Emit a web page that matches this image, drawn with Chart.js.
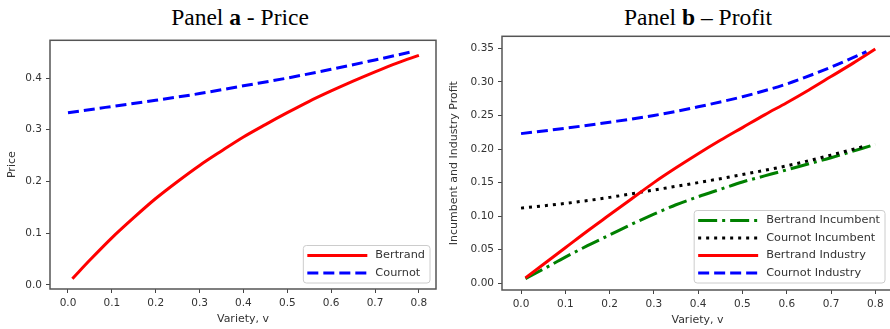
<!DOCTYPE html>
<html>
<head>
<meta charset="utf-8">
<script src="https://cdn.jsdelivr.net/npm/chart.js@4"></script>
<style>
  html, body { margin: 0; padding: 0; background: #fff; overflow: hidden; width: 890px; height: 329px; }
  .ttl { position: absolute; top: 4px; width: 300px; text-align: center; font-family: "Liberation Serif", serif; font-size: 23.5px; line-height: 26px; color: #000; }
  canvas { position: absolute; }
</style>
</head>
<body>
<div class="ttl" style="left:90px">Panel <b>a</b> - Price</div>
<div class="ttl" style="left:548px">Panel <b>b</b> – Profit</div>
<canvas id="price" width="445" height="299" style="left:0;top:30px"></canvas>
<canvas id="profit" width="450" height="303" style="left:445px;top:26px"></canvas>
<script>
// values
const xBertrand = [0.01, 0.05, 0.1, 0.15, 0.2, 0.25, 0.3, 0.35, 0.4, 0.45, 0.5, 0.55, 0.6, 0.65, 0.7, 0.75, 0.8];
const xCournot = [0, 0.1, 0.2, 0.3, 0.4, 0.5, 0.6, 0.7, 0.78];

const priceBertrand = [0.012, 0.048, 0.091, 0.130, 0.167, 0.200, 0.231, 0.259, 0.286, 0.310, 0.333, 0.355, 0.375, 0.394, 0.412, 0.429, 0.444];
const priceCournot = [0.333, 0.345, 0.357, 0.370, 0.385, 0.400, 0.417, 0.435, 0.450];

const bertrandIncumbent = [0.007, 0.021, 0.039, 0.056, 0.072, 0.088, 0.103, 0.117, 0.129, 0.140, 0.151, 0.160, 0.169, 0.178, 0.187, 0.197, 0.207];
const cournotIncumbent = [0.112, 0.119, 0.128, 0.139, 0.150, 0.162, 0.175, 0.191, 0.205];
const bertrandIndustry = [0.008, 0.028, 0.053, 0.078, 0.102, 0.126, 0.150, 0.172, 0.193, 0.213, 0.232, 0.251, 0.269, 0.288, 0.308, 0.328, 0.349];
const cournotIndustry = [0.223, 0.231, 0.240, 0.250, 0.263, 0.278, 0.297, 0.322, 0.345];

const xTicks = [0, 0.1, 0.2, 0.3, 0.4, 0.5, 0.6, 0.7, 0.8];
const priceTicks = [0, 0.1, 0.2, 0.3, 0.4];
const profitTicks = [0, 0.05, 0.1, 0.15, 0.2, 0.25, 0.3, 0.35];

Chart.defaults.font.family = '"DejaVu Sans", sans-serif';
Chart.defaults.font.size = 10.5;
Chart.defaults.color = '#333';

const pts = (xs, ys) => xs.map((x, i) => ({ x: x, y: ys[i] }));

// axes frame + matplotlib-like legend in the lower right
const frameLegend = {
  id: 'frameLegend',
  afterDraw(chart, args, opts) {
    const { ctx, chartArea: a } = chart;
    ctx.save();
    ctx.strokeStyle = '#555';
    ctx.lineWidth = 1.5;
    ctx.strokeRect(a.left, a.top, a.right - a.left, a.bottom - a.top);

    const sets = opts.order.map(i => chart.data.datasets[i]);
    ctx.font = '11.3px "DejaVu Sans"';
    const tw = Math.max(...sets.map(d => ctx.measureText(d.label).width));
    const w = 72 + tw + 5, rowH = 17.5, h = 20 + (sets.length - 1) * rowH;
    const right = a.right - opts.right, bottom = a.bottom - opts.bottom;
    const left = right - w, top = bottom - h;
    ctx.beginPath();
    ctx.roundRect(left, top, w, h, 3);
    ctx.fillStyle = 'rgba(255,255,255,0.85)';
    ctx.fill();
    ctx.strokeStyle = '#ccc';
    ctx.lineWidth = 1;
    ctx.stroke();
    sets.forEach((d, i) => {
      const y = top + 10 + i * rowH;
      ctx.beginPath();
      ctx.setLineDash(d.borderDash || []);
      ctx.strokeStyle = d.borderColor;
      ctx.lineWidth = d.borderWidth;
      ctx.moveTo(left + 4, y);
      ctx.lineTo(left + 64, y);
      ctx.stroke();
      ctx.setLineDash([]);
      ctx.fillStyle = '#333';
      ctx.textBaseline = 'middle';
      ctx.fillText(d.label, left + 72, y);
    });
    ctx.restore();
  }
};

function axis(min, max, ticks, fmt, title, titlePad, size, isX) {
  return {
    type: 'linear',
    min: min,
    max: max,
    afterBuildTicks: s => { s.ticks = ticks.map(v => ({ value: v })); },
    afterFit: s => { if (isX) s.height = size; else s.width = size; },
    ticks: { autoSkip: false, maxRotation: 0, padding: 4, color: '#333', callback: v => v.toFixed(fmt) },
    grid: { drawOnChartArea: false, drawTicks: true, tickLength: 4, color: '#444', tickWidth: 1 },
    border: { display: false },
    title: { display: true, text: title, color: '#333', font: { size: 11 }, padding: titlePad }
  };
}

function line(label, data, color, dash, order) {
  return {
    label: label, data: data, borderColor: color, borderWidth: 3, borderDash: dash,
    pointRadius: 0, fill: false, cubicInterpolationMode: 'monotone', order: order
  };
}

const common = {
  responsive: false,
  animation: false,
  events: []
};

new Chart(document.getElementById('price'), {
  type: 'line',
  data: {
    datasets: [
      line('Bertrand', pts(xBertrand, priceBertrand), '#ff0000', [], 2),
      line('Cournot', pts(xCournot, priceCournot), '#0000ff', [11, 5], 1)
    ]
  },
  options: Object.assign({}, common, {
    layout: { padding: { left: 0, right: 9, top: 8, bottom: 0 } },
    scales: {
      x: axis(-0.041, 0.839, xTicks, 1, 'Variety, v', { bottom: 3 }, 40, true),
      y: axis(-0.008, 0.473, priceTicks, 1, 'Price', { top: 6 }, 50, false)
    },
    plugins: {
      legend: { display: false },
      tooltip: { enabled: false },
      frameLegend: { order: [0, 1], right: 6, bottom: 6 }
    }
  }),
  plugins: [frameLegend]
});

new Chart(document.getElementById('profit'), {
  type: 'line',
  data: {
    datasets: [
      line('Bertrand Incumbent', pts(xBertrand, bertrandIncumbent), '#008000', [19, 5, 3, 5], 4),
      line('Cournot Incumbent', pts(xCournot, cournotIncumbent), '#000000', [3, 5], 3),
      line('Bertrand Industry', pts(xBertrand, bertrandIndustry), '#ff0000', [], 2),
      line('Cournot Industry', pts(xCournot, cournotIndustry), '#0000ff', [11, 5], 1)
    ]
  },
  options: Object.assign({}, common, {
    layout: { padding: { left: 0, right: 2, top: 8, bottom: 0 } },
    scales: {
      x: axis(-0.043, 0.84, xTicks, 1, 'Variety, v', { bottom: 2 }, 39, true),
      y: axis(-0.010, 0.368, profitTicks, 2, 'Incumbent and Industry Profit', { top: 3 }, 57, false)
    },
    plugins: {
      legend: { display: false },
      tooltip: { enabled: false },
      frameLegend: { order: [0, 1, 2, 3], right: 8, bottom: 7 }
    }
  }),
  plugins: [frameLegend]
});
</script>
</body>
</html>
